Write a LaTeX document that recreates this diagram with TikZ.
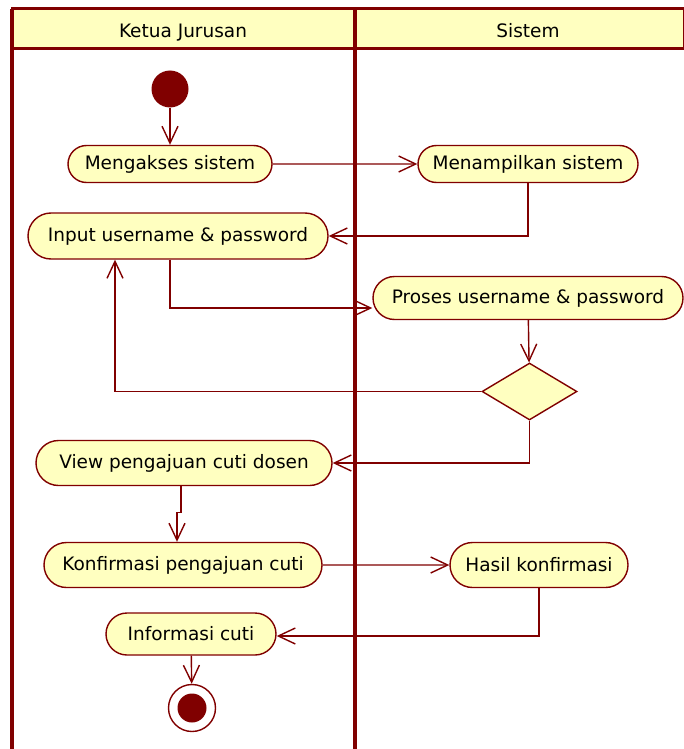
\documentclass[tikz,border=0pt]{standalone}
\usepackage{fontspec}
\setmainfont{DejaVu Sans}
\usetikzlibrary{arrows.meta,shapes.misc,shapes.geometric}
\definecolor{umlRed}{RGB}{128,0,0}
\definecolor{umlYellow}{RGB}{255,255,192}
\begin{document}
\begin{tikzpicture}
[x=1pt,y=-1pt,
  laneDecorate/.style={draw=umlRed,line width=3.5pt},%
  headDecorate/.style={fill=umlYellow,draw=umlRed,line width=3pt},
  actDecorate/.style={shape=rounded rectangle,draw=umlRed,fill=umlYellow,
    line width=1.4pt,inner xsep=4pt,font=\fontsize{18.5}{22}\selectfont},
  lineDecorate/.style={draw=umlRed,line width=1.4pt,
    -{Straight Barb[length=17pt,width=16pt,line width=1.4pt]}},
  font=\fontsize{18.5}{22}\selectfont]
\useasboundingbox (0,0) rectangle (684,749);
%% swimlanes
\path[headDecorate] (12,9) rectangle (684,49);
\draw[laneDecorate] (12,9) -- (12,749);
\draw[laneDecorate] (355,9) -- (355,749);
\node (laneKetua) at (183,38) [anchor=base] {Ketua Jurusan};
\node (laneSistem) at (528,38) [anchor=base] {Sistem};
%% start and end
\node (start) at (170,89) [shape=circle,fill=umlRed,minimum size=37pt,inner sep=0pt] {};
\node (finish) at (192,708) [shape=circle,draw=umlRed,line width=1.4pt,
  minimum size=47pt,inner sep=0pt] {};
\node (finishDot) at (192,708) [shape=circle,fill=umlRed,minimum size=29pt,inner sep=0pt] {};
%% activities
\foreach \nodename/\x/\y/\w/\h/\label in {
  mengakses/170/164/212/37/Mengakses sistem,
  menampilkan/528/164/228/37/Menampilkan sistem,
  input/178/236/308/46/Input username \& password,
  proses/528/298/318/43/Proses username \& password,
  view/184/463/304/45/View pengajuan cuti dosen,
  konfirmasi/183/565/286/45/Konfirmasi pengajuan cuti,
  hasil/539/565/186/45/Hasil konfirmasi,
  informasi/191/634/178/42/Informasi cuti}
{
  \node (\nodename) at (\x,\y) [actDecorate,minimum width=\w,minimum height=\h] {\label};
}
\node (decision) at (529.5,391.5) [shape=diamond,draw=umlRed,fill=umlYellow,
  line width=1.4pt,minimum width=95pt,minimum height=57pt,inner sep=0pt] {};
%% flows
\draw[lineDecorate] (start) -- (mengakses);
\draw[lineDecorate] (mengakses) -- (menampilkan);
\draw[lineDecorate] (menampilkan.south) |- (input.east);
\draw[lineDecorate] (input.south -| mengakses) |- ([yshift=-10pt]proses.west);
\draw[lineDecorate] (proses) -- (decision);
\draw[lineDecorate] (decision.west) -| ([xshift=-63pt]input.south);
\draw[lineDecorate] (decision.south) |- (view.east);
\draw[lineDecorate] ([xshift=-3pt]view.south) -- ++(0,26) -| ([xshift=-6pt]konfirmasi.north);
\draw[lineDecorate] (konfirmasi) -- (hasil);
\draw[lineDecorate] (hasil.south) |- ([yshift=-2pt]informasi.east);
\draw[lineDecorate] (informasi) -- (finish);
\end{tikzpicture}
\end{document}
